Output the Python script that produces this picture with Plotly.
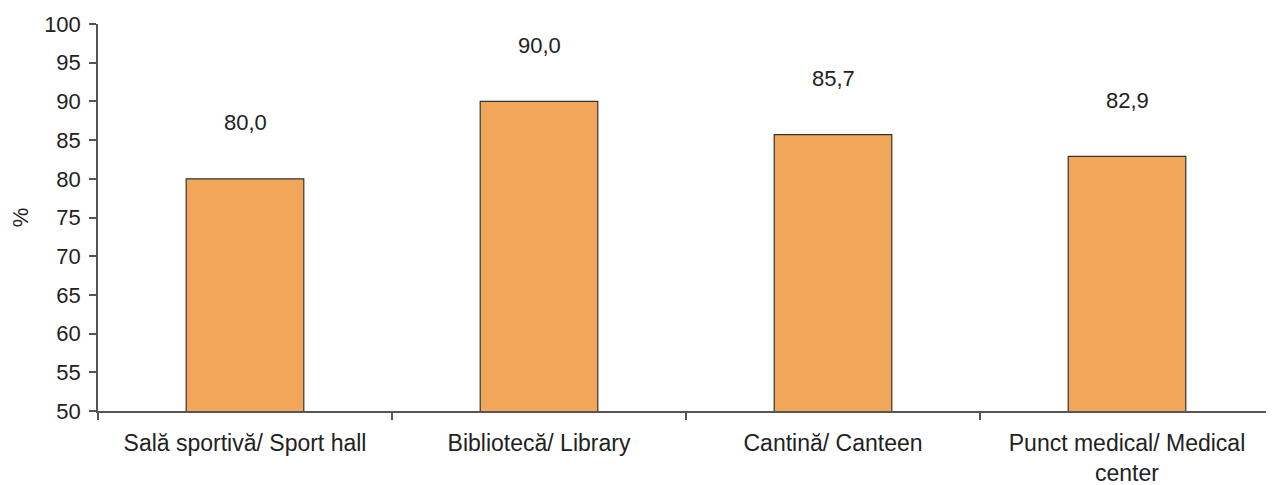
import plotly.graph_objects as go

categories = ["Sală sportivă/ Sport hall", "Bibliotecă/ Library", "Cantină/ Canteen", "Punct medical/ Medical<br>center"]
values = [80.0, 90.0, 85.7, 82.9]
y_ticks = [50, 55, 60, 65, 70, 75, 80, 85, 90, 95, 100]

FONT = "Liberation Sans, Arial, sans-serif"
TXT = "#222222"
FS = 22

fig = go.Figure()
fig.add_trace(go.Bar(
    x=categories, y=values,
    marker=dict(color="#F2A65A", line=dict(color="#333333", width=1.2)),
    hoverinfo="skip",
))

for c, v in zip(categories, values):
    fig.add_annotation(
        x=c, y=v, text=f"{v:.1f}".replace(".", ","),
        showarrow=False, yshift=56, yanchor="middle",
        font=dict(family=FONT, size=FS, color=TXT),
    )

# page body has an 8px margin, so the figure is shrunk by 8px to fit the window
fig.update_layout(
    width=1266, height=477,
    margin=dict(l=90, r=0, t=16, b=74),
    paper_bgcolor="white", plot_bgcolor="white",
    bargap=0.6,
    showlegend=False,
    font=dict(family=FONT, size=FS, color=TXT),
)
fig.update_xaxes(
    type="category", tickson="boundaries",
    range=[-0.5, 3.5],
    showline=True, linecolor="#555555", linewidth=1.5,
    ticks="outside", ticklen=7, tickcolor="#555555", tickwidth=1.5,
    ticklabelstandoff=11,
    showgrid=False, zeroline=False,
    tickfont=dict(family=FONT, size=23, color=TXT),
)
fig.update_yaxes(
    range=[50, 100], tickvals=y_ticks,
    showline=True, linecolor="#555555", linewidth=1.5,
    ticks="outside", ticklen=7, tickcolor="#555555", tickwidth=1.5,
    ticklabelstandoff=4,
    showgrid=False, zeroline=False,
    tickfont=dict(family=FONT, size=FS, color=TXT),
    title=dict(text="%", font=dict(family=FONT, size=FS, color=TXT), standoff=20),
)

fig.write_html("out.html")
